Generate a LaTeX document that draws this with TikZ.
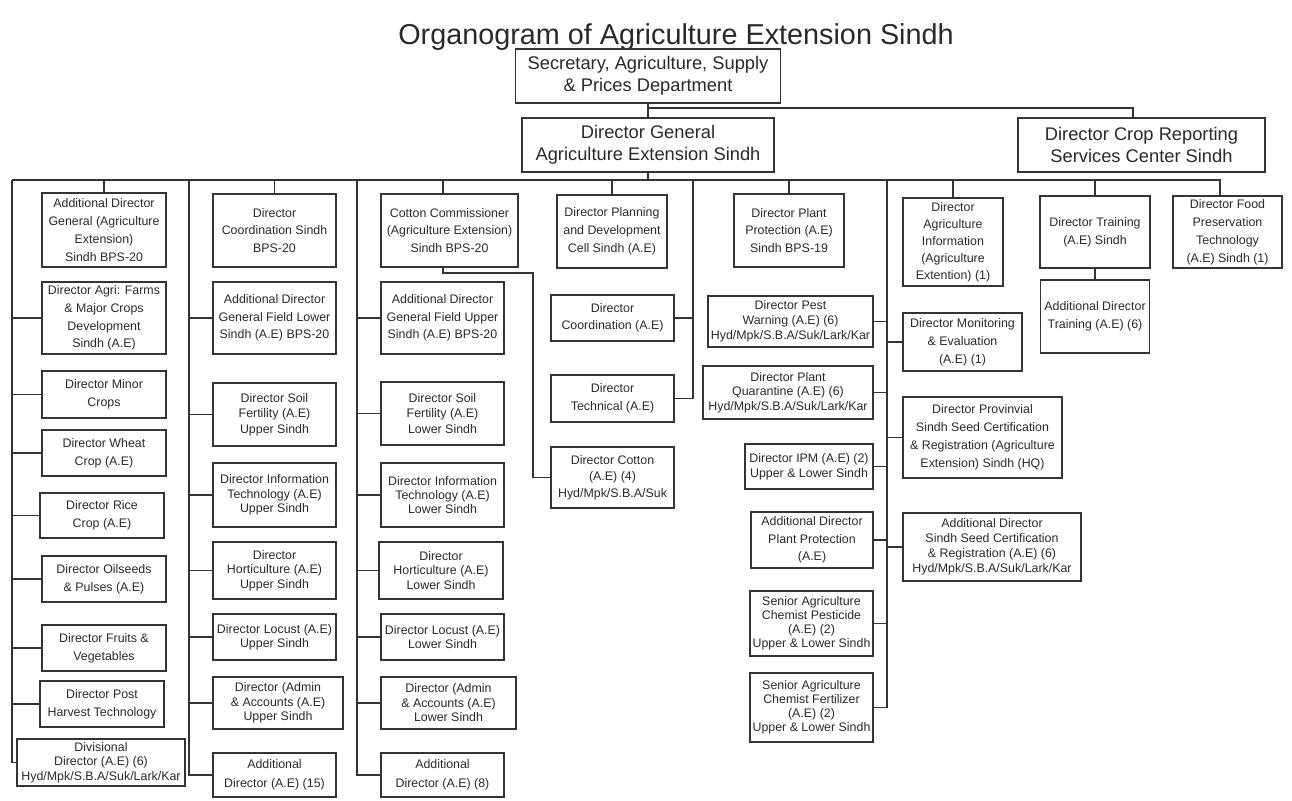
\documentclass[tikz,border=0pt]{standalone}
\usepackage{fontspec}
\setmainfont{Liberation Sans}
\definecolor{lc}{HTML}{333333}
\definecolor{tc}{HTML}{2A2A2A}
\newcommand\Bx[7]{\node[box,minimum width=#4,minimum height=#5,#6] (#1) at (#2,#3) {#7};}
\begin{document}
\begin{tikzpicture}[x=1pt,y=-1pt,
  box/.style={draw=lc, line width=1.8pt, align=center, inner sep=0pt, text=tc, font=\fontsize{12.4}{17.8}\selectfont},
  ls/.style={font=\fontsize{12.4}{#1}\selectfont},
  topbox/.style={font=\fontsize{18.3}{22}\selectfont},
  wire/.style={draw=lc, line width=1.8pt}]
\fill[white] (0,0) rectangle (1292,800);
\useasboundingbox (0,0) rectangle (1292,800);
\node[font=\fontsize{28.8}{32}\selectfont, text=tc, anchor=base] (title) at (676,45) {Organogram of Agriculture Extension Sindh};
% top level
\Bx{sec}{648}{76}{265}{54}{topbox}{Secretary, Agriculture, Supply\\\& Prices Department}
\Bx{dg}{648}{145}{252}{54}{topbox}{Director General\\Agriculture Extension Sindh}
\Bx{crs}{1141.5}{145}{247}{54}{topbox}{Director Crop Reporting\\Services Center Sindh}
% column 1
\Bx{c1a}{104}{230}{124}{74}{}{Additional Director\\General (Agriculture\\Extension)\\Sindh BPS-20}
\Bx{c1b}{104}{318}{124}{72}{}{Director Agri: Farms\\\& Major Crops\\Development\\Sindh (A.E)}
\Bx{c1c}{104}{394.5}{124}{47}{}{Director Minor\\Crops}
\Bx{c1d}{104}{453}{124}{46}{}{Director Wheat\\Crop (A.E)}
\Bx{c1e}{102}{515.5}{124}{45}{}{Director Rice\\Crop (A.E)}
\Bx{c1f}{104}{579}{124}{46}{}{Director Oilseeds\\\& Pulses (A.E)}
\Bx{c1g}{104}{648}{124}{46}{}{Director Fruits \&\\Vegetables}
\Bx{c1h}{102}{704}{124}{46}{}{Director Post\\Harvest Technology}
\Bx{c1i}{101}{762.5}{168}{47}{ls=14.3}{Divisional\\Director (A.E) (6)\\Hyd/Mpk/S.B.A/Suk/Lark/Kar}
% column 2
\Bx{c2a}{274.5}{230.5}{123}{73}{}{Director\\Coordination Sindh\\BPS-20}
\Bx{c2b}{274.5}{318}{123}{72}{ls=17.3}{Additional Director\\General Field Lower\\Sindh (A.E) BPS-20}
\Bx{c2c}{274.5}{414.5}{123}{63}{ls=15.5}{Director Soil\\Fertility (A.E)\\Upper Sindh}
\Bx{c2d}{274.5}{495}{123}{64}{ls=14.3}{Director Information\\Technology (A.E)\\Upper Sindh}
\Bx{c2e}{274.5}{570.5}{123}{57}{ls=14.3}{Director\\Horticulture (A.E)\\Upper Sindh}
\Bx{c2f}{274.5}{637}{123}{46}{ls=14}{Director Locust (A.E)\\Upper Sindh}
\Bx{c2g}{278}{703}{130}{52}{ls=14.5}{Director (Admin\\\& Accounts (A.E)\\Upper Sindh}
\Bx{c2h}{274.5}{775}{123}{44}{ls=19}{Additional\\Director (A.E) (15)}
% column 3
\Bx{c3a}{449.5}{230.5}{137}{73}{}{Cotton Commissioner\\(Agriculture Extension)\\Sindh BPS-20}
\Bx{c3b}{442.5}{318}{123}{72}{ls=17.5}{Additional Director\\General Field Upper\\Sindh (A.E) BPS-20}
\Bx{c3c}{442.5}{413.5}{123}{63}{ls=15.5}{Director Soil\\Fertility (A.E)\\Lower Sindh}
\Bx{c3d}{442.5}{495}{123}{64}{ls=14.3}{Director Information\\Technology (A.E)\\Lower Sindh}
\Bx{c3e}{441}{570.5}{124}{57}{ls=14.3}{Director\\Horticulture (A.E)\\Lower Sindh}
\Bx{c3f}{442.5}{637}{123}{46}{ls=13.7}{Director Locust (A.E)\\Lower Sindh}
\Bx{c3g}{448.5}{703}{135}{52}{ls=14.5}{Director (Admin\\\& Accounts (A.E)\\Lower Sindh}
\Bx{c3h}{442.5}{775}{123}{44}{ls=19}{Additional\\Director (A.E) (8)}
% column 4
\Bx{c4a}{612}{231.5}{110}{73}{}{Director Planning\\and Development\\Cell Sindh (A.E)}
\Bx{c4b}{612.5}{318}{123}{46}{ls=17.5}{Director\\Coordination (A.E)}
\Bx{c4c}{612.5}{398.5}{123}{47}{ls=18}{Director\\Technical (A.E)}
\Bx{c4d}{612.5}{477.5}{123}{61}{ls=16.5}{Director Cotton\\(A.E) (4)\\Hyd/Mpk/S.B.A/Suk}
% column 5
\Bx{c5a}{789}{230.5}{110}{73}{}{Director Plant\\Protection (A.E)\\Sindh BPS-19}
\Bx{c5b}{790.5}{321.5}{165}{51}{ls=14.8}{Director Pest\\Warning (A.E) (6)\\Hyd/Mpk/S.B.A/Suk/Lark/Kar}
\Bx{c5c}{788}{392.5}{170}{53}{ls=14.7}{Director Plant\\Quarantine (A.E) (6)\\Hyd/Mpk/S.B.A/Suk/Lark/Kar}
\Bx{c5d}{809}{466.5}{128}{45}{ls=15}{Director IPM (A.E) (2)\\Upper \& Lower Sindh}
\Bx{c5e}{812}{540}{122}{56}{ls=17.5}{Additional Director\\Plant Protection\\(A.E)}
\Bx{c5f}{811.5}{623.5}{123}{65}{ls=14}{Senior Agriculture\\Chemist Pesticide\\(A.E) (2)\\Upper \& Lower Sindh}
\Bx{c5g}{811.5}{707.5}{123}{69}{ls=14}{Senior Agriculture\\Chemist Fertilizer\\(A.E) (2)\\Upper \& Lower Sindh}
% column 6
\Bx{c6a}{953}{242}{100}{88}{ls=17}{Director\\Agriculture\\Information\\(Agriculture\\Extention) (1)}
\Bx{c6b}{962.5}{342}{119}{58}{ls=18}{Director Monitoring\\\& Evaluation\\(A.E) (1)}
\Bx{c6c}{982.5}{437.5}{159}{81}{ls=18}{Director Provinvial\\Sindh Seed Certification\\\& Registration (Agriculture\\Extension) Sindh (HQ)}
\Bx{c6d}{992}{547}{178}{68}{ls=15}{Additional Director\\Sindh Seed Certification\\\& Registration (A.E) (6)\\Hyd/Mpk/S.B.A/Suk/Lark/Kar}
% column 7 and 8
\Bx{c7a}{1095}{232}{110}{72}{}{Director Training\\(A.E) Sindh}
\Bx{c7b}{1095}{316.5}{109}{73}{}{Additional Director\\Training (A.E) (6)}
\Bx{c8a}{1227.5}{232}{109}{72}{ls=18}{Director Food\\Preservation\\Technology\\(A.E) Sindh (1)}
% connectors
\coordinate (j1) at (648,108);
\coordinate (j2) at (1133,108);
\coordinate (bus) at (0,180);
\coordinate (v1) at (12,180);
\coordinate (v2) at (189,180);
\coordinate (v3) at (357,180);
\coordinate (k3) at (443,180);
\coordinate (v4l) at (533,273);
\coordinate (v4) at (693,180);
\coordinate (v5) at (887,180);
\coordinate (busR) at (1220,180);
\draw[wire] (sec.south) -- (dg.north);
\draw[wire] (j1) -- (j2) -- (j2 |- crs.north);
\draw[wire] (dg.south) -- (dg.south |- bus);
\draw[wire] (v1) -- (busR) -- (busR |- c8a.north);
\draw[wire] (v1) |- (c1i.west);
\foreach \n in {c1b,c1c,c1d,c1e,c1f,c1g,c1h} \draw[wire] (\n.west) -- (\n.west -| v1);
\draw[wire] (v2) |- (c2h.west);
\foreach \n in {c2b,c2c,c2d,c2e,c2f,c2g} \draw[wire] (\n.west) -- (\n.west -| v2);
\draw[wire] (v3) |- (c3h.west);
\foreach \n in {c3b,c3c,c3d,c3e,c3f,c3g} \draw[wire] (\n.west) -- (\n.west -| v3);
\draw[wire] (k3) -- (k3 |- c3a.north);
\draw[wire] (k3 |- c3a.south) |- (v4l) |- (c4d.west);
\draw[wire] (v4) |- (c4c.east);
\draw[wire] (c4b.east) -- (c4b.east -| v4);
\draw[wire] (v5) |- (c5g.east);
\foreach \n in {c5b,c5c,c5d,c5e,c5f} \draw[wire] (\n.east) -- (\n.east -| v5);
\foreach \n in {c6b,c6c,c6d} \draw[wire] (\n.west) -- (\n.west -| v5);
\foreach \n in {c1a,c2a,c4a,c5a,c6a,c7a} \draw[wire] (\n.north) -- (\n.north |- bus);
\draw[wire] (c7a.south) -- (c7b.north);
\end{tikzpicture}
\end{document}
